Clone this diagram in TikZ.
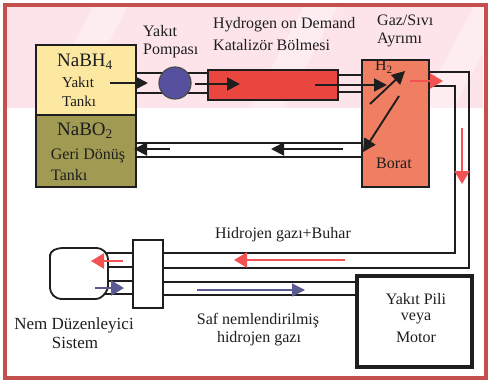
\documentclass[tikz,border=0pt]{standalone}
\usepackage{fontspec}
\setmainfont{Liberation Serif}
\usetikzlibrary{arrows.meta}
\definecolor{framec}{HTML}{C4504E}
\definecolor{pinkbg}{HTML}{FCE4EA}
\definecolor{yellowt}{HTML}{FCE8A0}
\definecolor{olivet}{HTML}{A09A52}
\definecolor{pumpc}{HTML}{56509E}
\definecolor{catc}{HTML}{E8463E}
\definecolor{sepc}{HTML}{F07E62}
\definecolor{redar}{HTML}{F25252}
\definecolor{bluear}{HTML}{5C5A92}
\definecolor{ink}{HTML}{1E1E1E}
\tikzset{
  pipe/.style={draw=ink, line width=1.8pt},
  boxline/.style={draw=ink, line width=1.8pt},
  flow/.style={draw=ink, line width=1.9pt, -{Triangle[length=13pt,width=13pt]}},
  rflow/.style={draw=redar, line width=2.4pt, -{Triangle[length=13pt,width=15pt]}},
  bflow/.style={draw=bluear, line width=2.4pt, -{Triangle[length=13pt,width=15pt]}},
  bthin/.style={draw=bluear, line width=1.3pt, -{Triangle[length=13pt,width=13pt]}},
  lbl/.style={inner sep=0pt, font=\fontsize{16}{18}\selectfont, text=ink},
  tlbl/.style={inner sep=0pt, font=\fontsize{15}{17}\selectfont, text=ink},
  big/.style={inner sep=0pt, font=\fontsize{19}{21}\selectfont, text=ink},
}
\begin{document}
\begin{tikzpicture}[x=1pt,y=-1pt]
\useasboundingbox (0,0) rectangle (490,383);
\fill[white] (0,0) rectangle (490,383);
\begin{scope}
  \clip (7,7) rectangle (483,108);
  \fill[pinkbg] (7,7) rectangle (483,108);
  \foreach \x in {40,250,420} \draw[white, opacity=0.35, line width=30pt] (\x,140) -- (\x+90,-30);
\end{scope}
\draw[framec, line width=4pt] (5,5) rectangle (486,378);

% pipes
\draw[pipe] (136,73) -- (208,73);
\draw[pipe] (136,93) -- (208,93);
\draw[pipe] (338,75) -- (362,75);
\draw[pipe] (338,92) -- (362,92);
\draw[pipe] (136,143) -- (362,143);
\draw[pipe] (136,157) -- (362,157);
\coordinate (sepOut1) at (429,72);
\coordinate (sepOut2) at (429,86);
\draw[pipe] (sepOut1) -| (469,268) -- (163,268);
\draw[pipe] (sepOut2) -| (455,253) -- (163,253);
\draw[pipe] (163,282) -- (357,282);
\draw[pipe] (163,295) -- (357,295);
\foreach \y in {253,267,281,294} \draw[pipe] (105,\y) -- (133,\y);

% boxes
\node[boxline, fill=yellowt, minimum width=100pt, minimum height=70pt, inner sep=0pt] (tankA) at (86,80) {};
\node[boxline, fill=olivet, minimum width=100pt, minimum height=72pt, inner sep=0pt] (tankB) at (86,151) {};
\node[draw=ink!80, line width=1.2pt, fill=pumpc, circle, minimum size=32pt, inner sep=0pt] (pump) at (175,83) {};
\node[boxline, fill=catc, minimum width=130pt, minimum height=30pt, inner sep=0pt] (cat) at (273,85) {};
\node[boxline, fill=sepc, minimum width=67pt, minimum height=127pt, inner sep=0pt] (sep) at (395.5,123.5) {};
\draw[boxline, fill=white, rounded corners=4pt] (50,258) -- (50,252) -- (58,248) -- (101,248) -- (108,255) -- (108,290) -- (100,299) -- (57,299) -- (50,292) -- cycle;
\node[boxline, fill=white, minimum width=30pt, minimum height=68pt, inner sep=0pt] (conn) at (148,274) {};
\node[draw=ink, line width=3.5pt, fill=white, minimum width=115pt, minimum height=91pt, inner sep=0pt] (fc) at (414.5,321.5) {};

% flow arrows
\draw[flow] (110,83) -- (148,83);
\draw[flow] (195,84) -- (240,84);
\draw[flow] (315,85) -- (387,85);
\draw[flow] (343,149) -- (271,149);
\draw[flow] (170,149) -- (134,149);
\draw[flow] (370,104) -- (405,71);
\draw[flow] (399,96) -- (363,152);
\draw[rflow] (410,81) -- (443,81);
\draw[rflow] (462,128) -- (462,184);
\draw[rflow] (345,260) -- (234,260);
\draw[rflow] (123,261) -- (91,261);
\draw[bflow] (95,288) -- (124,288);
\draw[bthin] (197,290) -- (305,290);

% labels
\node[big] (tA1) at (85,62) {NaBH\textsubscript{4}};
\node[tlbl, anchor=west] (tA2) at (62,82) {Yakıt};
\node[tlbl, anchor=west] (tA3) at (62,101) {Tankı};
\node[big] (tB1) at (85,131) {NaBO\textsubscript{2}};
\node[lbl] (tB2) at (88,156) {Geri Dönüş};
\node[lbl, anchor=west] (tB3) at (51,175) {Tankı};
\node[lbl, anchor=west] (pl1) at (143,31) {Yakıt};
\node[lbl, anchor=west] (pl2) at (143,51) {Pompası};
\node[lbl, anchor=west] (cl1) at (213,25) {Hydrogen on Demand};
\node[lbl, anchor=west] (cl2) at (213,45) {Katalizör Bölmesi};
\node[lbl, anchor=west] (sl1) at (377,20) {Gaz/Sıvı};
\node[lbl, anchor=west] (sl2) at (377,40) {Ayrımı};
\node[lbl] (h2) at (384,67) {H\textsubscript{2}};
\node[lbl] (bor) at (394,163) {Borat};
\node[lbl] (hb) at (283,235) {Hidrojen gazı+Buhar};
\node[lbl] (sf1) at (258,321) {Saf nemlendirilmiş};
\node[lbl] (sf2) at (259,339) {hidrojen gazı};
\node[lbl, font=\fontsize{17}{19}\selectfont] (nm1) at (74,325) {Nem Düzenleyici};
\node[lbl, font=\fontsize{17}{19}\selectfont] (nm2) at (75,343) {Sistem};
\node[lbl] (fc1) at (416,299) {Yakıt Pili};
\node[lbl] (fc2) at (416,318) {veya};
\node[lbl] (fc3) at (416,337) {Motor};
\end{tikzpicture}
\end{document}
